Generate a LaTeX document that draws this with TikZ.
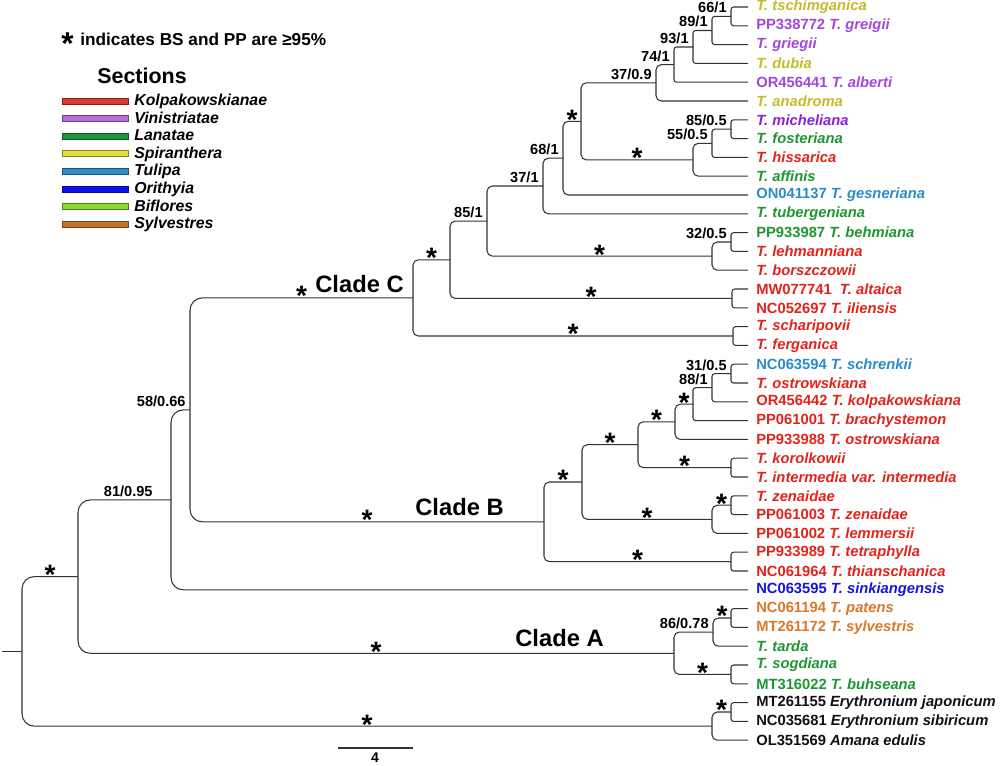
\documentclass[tikz,border=0pt]{standalone}
\usepackage{fontspec}
\setmainfont{Liberation Sans}
\usepackage{tikz}
\usetikzlibrary{calc}

\definecolor{kolp}{HTML}{E2231A}
\definecolor{vinis}{HTML}{A346DB}
\definecolor{mich}{HTML}{8A22D4}
\definecolor{lana}{HTML}{1E9632}
\definecolor{spir}{HTML}{C2BB2A}
\definecolor{tuli}{HTML}{2A8BC8}
\definecolor{orit}{HTML}{1414E0}
\definecolor{sylv}{HTML}{D9782A}
\definecolor{outg}{HTML}{111111}
\definecolor{kolpbar}{HTML}{D83A2C}
\definecolor{vinisbar}{HTML}{B56FE0}
\definecolor{lanabar}{HTML}{20943A}
\definecolor{spirbar}{HTML}{E3E03A}
\definecolor{tulibar}{HTML}{2C8DC6}
\definecolor{oritbar}{HTML}{1010E6}
\definecolor{biflbar}{HTML}{86DE2C}
\definecolor{sylvbar}{HTML}{C8702C}

\tikzset{
  br/.style={draw=black!80, line width=0.6pt, rounded corners=1.5pt},
  leaf/.style={anchor=west, inner xsep=4.5pt, inner ysep=1pt, font=\bfseries\fontsize{8.4}{10}\selectfont},
  supp/.style={anchor=base east, inner sep=0pt, xshift=-2.3pt, yshift=2pt, font=\bfseries\fontsize{8.3}{10}\selectfont},
  star/.style={anchor=base, inner sep=0pt, yshift=-4.5pt, font=\bfseries\fontsize{16}{16}\selectfont},
  clade/.style={anchor=base west, inner sep=0pt, font=\bfseries\fontsize{13.5}{16}\selectfont},
  secbar/.style={line width=0.4pt}
}

\begin{document}
\begin{tikzpicture}[x=0.02cm, y=-0.02cm]
  \useasboundingbox (0,0) rectangle (1000,765);

  % tips
  \foreach \col/\txt [count=\i] in {
    spir/{\textit{T. tschimganica}},
    vinis/{PP338772 \textit{T. greigii}},
    vinis/{\textit{T. griegii}},
    spir/{\textit{T. dubia}},
    vinis/{OR456441 \textit{T. alberti}},
    spir/{\textit{T. anadroma}},
    mich/{\textit{T. micheliana}},
    lana/{\textit{T. fosteriana}},
    kolp/{\textit{T. hissarica}},
    lana/{\textit{T. affinis}},
    tuli/{ON041137 \textit{T. gesneriana}},
    lana/{\textit{T. tubergeniana}},
    lana/{PP933987 \textit{T. behmiana}},
    kolp/{\textit{T. lehmanniana}},
    kolp/{\textit{T. borszczowii}},
    kolp/{MW077741\ \ \textit{T. altaica}},
    kolp/{NC052697 \textit{T. iliensis}},
    kolp/{\textit{T. scharipovii}},
    kolp/{\textit{T. ferganica}},
    tuli/{NC063594 \textit{T. schrenkii}},
    kolp/{\textit{T. ostrowskiana}},
    kolp/{OR456442 \textit{T. kolpakowskiana}},
    kolp/{PP061001 \textit{T. brachystemon}},
    kolp/{PP933988 \textit{T. ostrowskiana}},
    kolp/{\textit{T. korolkowii}},
    kolp/{\textit{T. intermedia var. intermedia}},
    kolp/{\textit{T. zenaidae}},
    kolp/{PP061003 \textit{T. zenaidae}},
    kolp/{PP061002 \textit{T. lemmersii}},
    kolp/{PP933989 \textit{T. tetraphylla}},
    kolp/{NC061964 \textit{T. thianschanica}},
    orit/{NC063595 \textit{T. sinkiangensis}},
    sylv/{NC061194 \textit{T. patens}},
    sylv/{MT261172 \textit{T. sylvestris}},
    lana/{\textit{T. tarda}},
    lana/{\textit{T. sogdiana}},
    lana/{MT316022 \textit{T. buhseana}},
    outg/{MT261155 \textit{Erythronium japonicum}},
    outg/{NC035681 \textit{Erythronium sibiricum}},
    outg/{OL351569 \textit{Amana edulis}}}
    \node[leaf, text=\col] (l\i) at (748, {7+18.8*(\i-1)}) {\txt};

  % internal nodes, clade C
  \coordinate (n66) at (731, 16.4);
  \coordinate (n89) at (712, 30.5);
  \coordinate (n93) at (693, 47.0);
  \coordinate (n74) at (674, 64.6);
  \coordinate (n37a) at (656, 82.8);
  \coordinate (n85a) at (731, 129.2);
  \coordinate (n55) at (712, 143.3);
  \coordinate (nS2) at (693, 159.8);
  \coordinate (nS1) at (581, 121.3);
  \coordinate (n68) at (563, 158.2);
  \coordinate (n37b) at (543, 186.0);
  \coordinate (n32) at (731, 242.0);
  \coordinate (nS3) at (712, 256.1);
  \coordinate (n85b) at (487, 221.1);
  \coordinate (nAlt) at (732, 298.4);
  \coordinate (nS4) at (450, 259.8);
  \coordinate (nSch) at (733, 336.0);
  \coordinate (nC) at (413, 297.9);
  % clade B
  \coordinate (n31) at (731, 373.6);
  \coordinate (n88) at (712, 387.7);
  \coordinate (nS5) at (693, 404.2);
  \coordinate (nS6) at (675, 421.8);
  \coordinate (nKor) at (731, 467.6);
  \coordinate (nS7) at (638, 444.7);
  \coordinate (nZ2) at (731, 505.2);
  \coordinate (nZ) at (712, 519.3);
  \coordinate (nS8) at (582, 482.0);
  \coordinate (nTet) at (731, 561.6);
  \coordinate (nB) at (544, 521.8);
  % backbone
  \coordinate (n58) at (190, 409.9);
  \coordinate (n81) at (171, 499.9);
  % clade A
  \coordinate (nPat) at (731, 618.0);
  \coordinate (n86) at (713, 632.1);
  \coordinate (nSog) at (731, 674.4);
  \coordinate (nA) at (674, 653.3);
  \coordinate (nIn) at (78, 576.6);
  % outgroup
  \coordinate (nEry) at (731, 712.0);
  \coordinate (nOut) at (712, 726.1);
  \coordinate (root) at (22, 651.4);
  \coordinate (stub) at (2, 651.4);

  % branches
  \draw[br] (stub) -- (root);
  \foreach \p/\c in {root/nIn, root/nOut, nIn/n81, nIn/nA, n81/n58, n81/l32, n58/nC, n58/nB}
    \draw[br, rounded corners=7pt] (\p) |- (\c);
  \foreach \p/\c in {nC/nS4, nC/nSch, nS4/n85b, nS4/nAlt, n85b/n37b, n85b/nS3, n37b/n68, n37b/l12,
                     n68/nS1, n68/l11, nS1/n37a, nS1/nS2, n37a/n74, n37a/l6, nS2/n55, nS2/l10,
                     nS3/n32, nS3/l15, nB/nS8, nB/nTet, nS8/nS7, nS8/nZ, nS7/nS6, nS7/nKor,
                     nS6/nS5, nS6/l24, nZ/nZ2, nZ/l29, nA/n86, nA/nSog, n86/nPat, n86/l35,
                     nOut/nEry, nOut/l40}
    \draw[br, rounded corners=3pt] (\p) |- (\c);
  \foreach \p/\c in {n66/l1, n66/l2, n89/n66, n89/l3, n93/n89, n93/l4, n74/n93, n74/l5,
                     n85a/l7, n85a/l8, n55/n85a, n55/l9, n32/l13, n32/l14, nAlt/l16, nAlt/l17,
                     nSch/l18, nSch/l19, n31/l20, n31/l21, n88/n31, n88/l22, nS5/n88, nS5/l23,
                     nKor/l25, nKor/l26, nZ2/l27, nZ2/l28, nTet/l30, nTet/l31, nPat/l33, nPat/l34,
                     nSog/l36, nSog/l37, nEry/l38, nEry/l39}
    \draw[br] (\p) |- (\c);

  % stars (BS and PP >= 95)
  \foreach \p/\c in {n68/nS1, nS1/nS2, n85b/nS3, nC/nS4, nS4/nAlt, nC/nSch, n58/nC,
                     nS6/nS5, nS7/nS6, nS8/nS7, nS7/nKor, nB/nS8, nS8/nZ, nZ/nZ2, nB/nTet, n58/nB,
                     root/nIn, n86/nPat, nA/nSog, nIn/nA, nOut/nEry, root/nOut}
    \node[star] (s\c) at ($(\p |- \c)!.5!(\c)$) {*};

  % support values
  \foreach \nd/\val in {n66/{66/1}, n89/{89/1}, n93/{93/1}, n74/{74/1}, n37a/{37/0.9},
                        n85a/{85/0.5}, n55/{55/0.5}, n68/{68/1}, n37b/{37/1}, n85b/{85/1},
                        n32/{32/0.5}, n31/{31/0.5}, n88/{88/1}, n58/{58/0.66}, n86/{86/0.78}}
    \node[supp] (v\nd) at (\nd) {\val};
  \node[supp, xshift=-8pt] (vn81) at (n81) {81/0.95};

  % clade names
  \node[clade] (cladeC) at (315, 292) {Clade C};
  \node[clade] (cladeB) at (415, 515.5) {Clade B};
  \node[clade] (cladeA) at (515, 646.5) {Clade A};

  % scale bar
  \coordinate (sb1) at (338, 748);
  \coordinate (sb2) at (413, 748);
  \draw[br] (sb1) -- (sb2);
  \node[font=\bfseries\fontsize{8}{10}\selectfont, inner sep=0pt] (sblab) at (375, 758) {4};

  % legend
  \node[star, font=\bfseries\fontsize{18}{18}\selectfont, yshift=-0.5pt] (notestar) at (67.5, 46) {*};
  \node[anchor=base west, inner sep=0pt, font=\bfseries\fontsize{9.8}{12}\selectfont] (note) at (80, 45.7) {indicates BS and PP are ≥95\%};
  \node[anchor=base west, inner sep=0pt, font=\bfseries\fontsize{12.2}{14}\selectfont] (sectitle) at (97, 83) {Sections};
  \foreach \col/\name [count=\j] in {kolpbar/Kolpakowskianae, vinisbar/Vinistriatae, lanabar/Lanatae,
                                     spirbar/Spiranthera, tulibar/Tulipa, oritbar/Orithyia,
                                     biflbar/Biflores, sylvbar/Sylvestres} {
    \draw[secbar, fill=\col, draw=\col!60!black] (62, {101+17.6*(\j-1)-3}) rectangle (128, {101+17.6*(\j-1)+3});
    \node[anchor=base west, inner sep=0pt, font=\bfseries\itshape\fontsize{9}{11}\selectfont] (sec\j) at (134, {101+17.6*(\j-1)+4.5}) {\name};
  }
\end{tikzpicture}
\end{document}
